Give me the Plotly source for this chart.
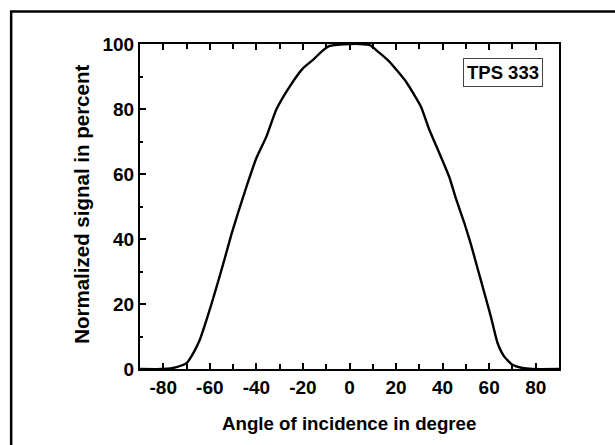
import plotly.graph_objects as go

# Data
angle_deg = [-90, -80, -74.3, -70, -67.1, -64.3, -61.7, -59.3, -56.4, -53.6, -50.7, -47.9,
             -44.3, -40, -35.7, -31.4, -25.7, -20, -15.7, -12.1, -8.6, -4.3, 0,
             4.3, 8.6, 12.5, 17.1, 24.3, 30.7, 34.3, 38.6, 42.9, 45.7, 49.3, 52.1, 55,
             57.9, 60.7, 63.6, 66.4, 70, 74.3, 78.6, 90]
signal_pct = [0, 0, 0.6, 1.8, 4.9, 9.0, 14.5, 20.0, 27.0, 34.0, 41.5, 48.0,
              56.0, 64.9, 71.5, 79.9, 86.9, 92.5, 95.1, 97.6, 99.4, 99.8, 100,
              100, 99.7, 97.5, 94.6, 88.4, 80.7, 73.6, 66.4, 59.0, 52.5, 45.0, 38.5, 31.0,
              23.5, 16.2, 8.0, 3.9, 1.3, 0.3, 0, 0]
x_ticks = [-80, -60, -40, -20, 0, 20, 40, 60, 80]
x_tick_labels = ["-80", "-60", "-40", "-20", "0", "20", "40", "60", "80"]
y_ticks = [0, 20, 40, 60, 80, 100]
y_tick_labels = ["0", "20", "40", "60", "80", "100"]
series_label = "TPS 333"
x_title = "Angle of incidence in degree"
y_title = "Normalized signal in percent"

FONT = "Liberation Sans, Arial, Helvetica, sans-serif"

fig = go.Figure()
fig.add_trace(go.Scatter(
    x=angle_deg, y=signal_pct, mode="lines",
    line=dict(color="black", width=2.4, shape="spline", smoothing=0.5),
    name=series_label, showlegend=False,
))

L, R, T, B = 140, 559.5, 44, 369.5
W, H = 615, 445
pw, ph = R - L, B - T

def px(x):
    return (x - L) / pw

def py(y):
    return (B - y) / ph

axis_common = dict(
    showgrid=False, zeroline=False, showline=True, linecolor="black", linewidth=2,
    ticks="inside", tickcolor="black", tickwidth=1.5, ticklen=6,
    tickfont=dict(family=FONT, size=19, color="black", weight="bold"),
)

fig.update_xaxes(
    range=[-90, 90], tickvals=x_ticks, ticktext=x_tick_labels, mirror="ticks",
    minor=dict(dtick=10, tick0=0, ticks="inside", ticklen=5, tickcolor="black", tickwidth=1.5),
    **axis_common,
)
fig.update_yaxes(
    range=[0, 100], tickvals=y_ticks, ticktext=y_tick_labels, mirror=True,
    minor=dict(dtick=10, tick0=0, ticks="inside", ticklen=3, tickcolor="black", tickwidth=1.5),
    **axis_common,
)

fig.add_annotation(
    text=x_title, xref="paper", yref="paper", x=px(349), y=py(424),
    xanchor="center", yanchor="middle", showarrow=False,
    font=dict(family=FONT, size=18.7, color="black", weight="bold"),
)
fig.add_annotation(
    text=y_title, xref="paper", yref="paper", x=px(82), y=py(205),
    xanchor="center", yanchor="middle", showarrow=False, textangle=-90,
    font=dict(family=FONT, size=20.5, color="black", weight="bold"),
)
fig.add_annotation(
    text=series_label, xref="paper", yref="paper", x=px(503.5), y=py(72.5),
    xanchor="center", yanchor="middle", showarrow=False,
    font=dict(family=FONT, size=18.5, color="black", weight="bold"),
    bordercolor="#444", borderwidth=1, borderpad=3, bgcolor="white",
)
# outer frame
fig.add_shape(
    type="rect", xref="paper", yref="paper",
    x0=px(11), x1=px(617), y0=py(452), y1=py(11.5),
    line=dict(color="black", width=2.5), layer="below",
)

fig.update_layout(
    width=W, height=H,
    margin=dict(l=L, r=W - R, t=T, b=H - B),
    paper_bgcolor="white", plot_bgcolor="white",
    font=dict(family=FONT, color="black"),
)

fig.write_html("out.html", config={"displayModeBar": False},
               post_script="document.body.style.margin='0';")
